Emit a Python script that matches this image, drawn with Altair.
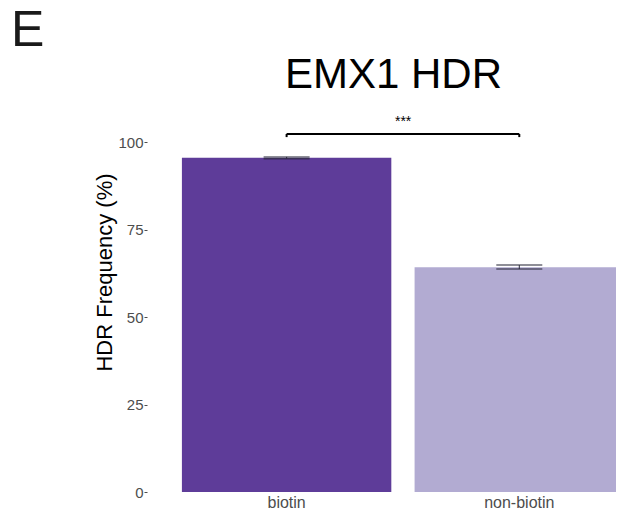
import altair as alt
import pandas as pd

groups = ["biotin", "non-biotin"]
means = [95.5, 64.2]
lows = [95.25, 63.7]
highs = [95.75, 64.85]
colors = ["#5e3c99", "#b2abd2"]
y_ticks = [0, 25, 50, 75, 100]
bracket_y = [102.3]
bracket_end = [101.4]
star_y = [105.8]
star_label = ["***"]

df = pd.DataFrame({"group": groups, "mean": means, "lo": lows, "hi": highs, "color": colors})
br = pd.DataFrame({"start": [groups[0]], "end": [groups[1]], "y": bracket_y, "label": star_label, "sy": star_y})
br_ends = pd.DataFrame({"group": groups, "y": bracket_y * 2, "y2": bracket_end * 2})

FONT = "Liberation Sans, Arial, sans-serif"
GREY = "#4d4d4d"

xscale = alt.Scale(domain=groups, paddingInner=0.1, paddingOuter=0.075, align=1, range=[0, 477])
yscale = alt.Scale(domain=[0, 110], nice=False, zero=False)

x = alt.X("group:N", sort=groups, scale=xscale,
          axis=alt.Axis(title=None, labelAngle=0, ticks=False, domain=False, labelPadding=15,
                        labelBaseline="alphabetic",
                        labelFontSize=16, labelColor=GREY, labelFont=FONT, grid=False))
y = alt.Y("mean:Q", scale=yscale,
          axis=alt.Axis(title="HDR Frequency (%)", values=y_ticks, tickSize=3, tickColor=GREY,
                        labelPadding=1, labelFontSize=15, labelColor=GREY, labelFont=FONT,
                        domain=False, grid=False, titleFont=FONT, titleFontSize=22,
                        titleFontWeight="normal", titleColor="black", titleAngle=-90,
                        titleX=-36, titleY=165, titleAlign="center", titleBaseline="alphabetic"))

bars = alt.Chart(df).mark_bar(clip=True).encode(x=x, y=y, color=alt.Color("color:N", scale=None))

err = alt.Chart(df).mark_rule(color="#2a2a3a", strokeWidth=1).encode(
    x=alt.X("group:N", sort=groups, scale=xscale), y=alt.Y("lo:Q", scale=yscale), y2="hi:Q")
cap_lo = alt.Chart(df).mark_tick(orient="horizontal", size=46, thickness=1.5, color="#2a2a3a").encode(
    x=alt.X("group:N", sort=groups, scale=xscale), y=alt.Y("lo:Q", scale=yscale))
cap_hi = alt.Chart(df).mark_tick(orient="horizontal", size=46, thickness=1.5, color="#2a2a3a").encode(
    x=alt.X("group:N", sort=groups, scale=xscale), y=alt.Y("hi:Q", scale=yscale))

bracket = alt.Chart(br).mark_rule(color="black", strokeWidth=2).encode(
    x=alt.X("start:N", scale=xscale), x2="end:N", y=alt.Y("y:Q", scale=yscale))
bracket_ticks = alt.Chart(br_ends).mark_rule(color="black", strokeWidth=2).encode(
    x=alt.X("group:N", sort=groups, scale=xscale), y=alt.Y("y:Q", scale=yscale), y2="y2:Q")
stars = alt.Chart(br).mark_text(font=FONT, fontSize=14, dx=116.5, baseline="middle").encode(
    x=alt.X("start:N", scale=xscale), y=alt.Y("sy:Q", scale=yscale), text="label:N")

title = alt.Chart(pd.DataFrame({"t": ["EMX1 HDR"]})).mark_text(
    font=FONT, fontSize=42, align="center", baseline="alphabetic", color="black").encode(
    x=alt.value(246.5), y=alt.value(-19), text="t:N")
panel = alt.Chart(pd.DataFrame({"t": ["E"]})).mark_text(
    font=FONT, fontSize=50, align="left", baseline="alphabetic", color="#1a1a1a").encode(
    x=alt.value(-136), y=alt.value(-61), text="t:N")

chart = alt.layer(bars, err, cap_lo, cap_hi, bracket, bracket_ticks, stars, title, panel).properties(
    width=469, height=385,
    autosize=alt.AutoSizeParams(type="none"),
    padding={"left": 139, "top": 99, "right": 0, "bottom": 18},
    background="white",
).configure_view(stroke=None)

chart.save("out.html", embed_options={"renderer": "svg", "actions": False})
